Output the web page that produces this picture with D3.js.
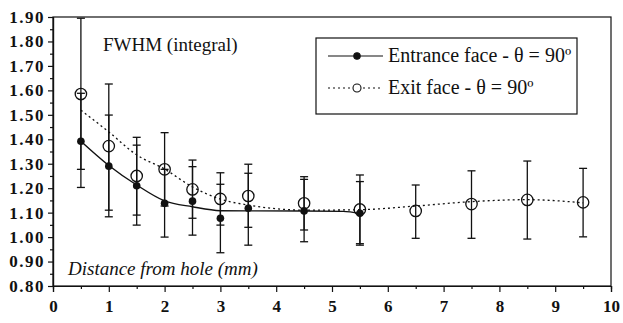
<!DOCTYPE html>
<html>
<head>
<meta charset="utf-8">
<script src="https://cdn.jsdelivr.net/npm/d3@7"></script>
<style>
  body { margin: 0; background: #fff; }
  svg text { font-family: "Liberation Serif", Tinos, "Times New Roman", "DejaVu Serif", serif; fill: #111; }
</style>
</head>
<body>
<svg id="chart" width="623" height="323"></svg>
<script>
// distances from hole (mm)
var entranceX = [0.5, 1, 1.5, 2, 2.5, 3, 3.5, 4.5, 5.5];
var entranceY = [1.392, 1.290, 1.210, 1.138, 1.147, 1.077, 1.118, 1.107, 1.097];
var entranceLo = [1.203, 1.083, 1.049, 1.000, 1.008, 0.936, 0.967, 0.981, 0.967];
var entranceHi = [1.588, 1.499, 1.376, 1.277, 1.288, 1.216, 1.261, 1.236, 1.227];

var exitX = [0.5, 1, 1.5, 2, 2.5, 3, 3.5, 4.5, 5.5, 6.5, 7.5, 8.5, 9.5];
var exitY = [1.585, 1.372, 1.250, 1.277, 1.195, 1.156, 1.168, 1.138, 1.113, 1.107, 1.135, 1.152, 1.142];
var exitLo = [1.277, 1.110, 1.090, 1.127, 1.077, 1.049, 1.040, 1.029, 0.973, 0.995, 0.995, 0.992, 1.001];
var exitHi = [1.895, 1.626, 1.408, 1.427, 1.315, 1.263, 1.298, 1.247, 1.254, 1.213, 1.271, 1.311, 1.281];

// fitted curves
var entranceFitX = [0.5, 1, 1.5, 2, 2.5, 3, 3.5, 4.5, 5.2, 5.5];
var entranceFitY = [1.392, 1.293, 1.213, 1.148, 1.124, 1.108, 1.107, 1.107, 1.105, 1.097];
var exitFitX = [0.5, 1, 1.5, 2, 2.5, 3, 3.5, 4, 4.5, 5.5, 6.5, 7.5, 8.5, 9.5];
var exitFitY = [1.519, 1.430, 1.336, 1.278, 1.205, 1.155, 1.131, 1.116, 1.110, 1.112, 1.127, 1.145, 1.153, 1.140];

var xTicks = [0, 1, 2, 3, 4, 5, 6, 7, 8, 9, 10];
var yTicks = [0.80, 0.90, 1.00, 1.10, 1.20, 1.30, 1.40, 1.50, 1.60, 1.70, 1.80, 1.90];

(function() {
    var svg = d3.select("#chart");
    var mLeft = 53, mRight = 611, mTop = 17, mBottom = 286;
    var serif = "'Liberation Serif', Tinos, 'Times New Roman', 'DejaVu Serif', serif";

    var x = d3.scaleLinear().domain([0, 10]).range([mLeft, mRight]);
    var y = d3.scaleLinear().domain([0.8, 1.9]).range([mBottom, mTop]);

    // frame
    svg.append("rect")
        .attr("x", mLeft).attr("y", mTop)
        .attr("width", mRight - mLeft).attr("height", mBottom - mTop)
        .attr("fill", "none").attr("stroke", "#111").attr("stroke-width", 1.2);

    // minor ticks
    var xMinor = d3.axisBottom(x).tickValues(d3.range(0.5, 10, 1)).tickSize(3).tickFormat("");
    svg.append("g").attr("transform", "translate(0," + mBottom + ")").call(xMinor);
    var yMinor = d3.axisLeft(y).tickValues(d3.range(0.85, 1.9, 0.1)).tickSize(3).tickFormat("");
    svg.append("g").attr("transform", "translate(" + mLeft + ",0)").call(yMinor);

    var xAxis = d3.axisBottom(x).tickValues(xTicks).tickSize(6).tickPadding(8).tickFormat(d3.format("d"));
    var gx = svg.append("g").attr("transform", "translate(0," + mBottom + ")").call(xAxis);
    var yAxis = d3.axisLeft(y).tickValues(yTicks).tickSize(5).tickPadding(3).tickFormat(d3.format(".2f"));
    var gy = svg.append("g").attr("transform", "translate(" + mLeft + ",0)").call(yAxis);

    svg.selectAll("g").attr("font-family", serif);
    svg.selectAll(".domain").attr("stroke", "#111").attr("stroke-width", 1.2);
    svg.selectAll(".tick line").attr("stroke", "#111").attr("stroke-width", 1.2);
    svg.selectAll(".tick text")
        .style("font-family", serif)
        .attr("font-size", 17).attr("font-weight", "bold").attr("fill", "#111");
    gy.selectAll(".tick text").attr("letter-spacing", 1.5);

    // error bars
    function errorBars(xs, lo, hi) {
        var g = svg.append("g").attr("stroke", "#111").attr("stroke-width", 1.3);
        xs.forEach(function(d, i) {
            var px = x(d);
            g.append("line").attr("x1", px).attr("x2", px)
                .attr("y1", y(lo[i])).attr("y2", y(hi[i]));
            [lo[i], hi[i]].forEach(function(v) {
                g.append("line").attr("x1", px - 4).attr("x2", px + 4)
                    .attr("y1", y(v)).attr("y2", y(v));
            });
        });
    }
    errorBars(entranceX, entranceLo, entranceHi);
    errorBars(exitX, exitLo, exitHi);

    // fitted lines
    var line = d3.line().curve(d3.curveMonotoneX)
        .x(function(d) { return x(d[0]); })
        .y(function(d) { return y(d[1]); });

    svg.append("path")
        .datum(exitFitX.map(function(d, i) { return [d, exitFitY[i]]; }))
        .attr("d", line).attr("fill", "none")
        .attr("stroke", "#111").attr("stroke-width", 1.3)
        .attr("stroke-dasharray", "2,3");

    svg.append("path")
        .datum(entranceFitX.map(function(d, i) { return [d, entranceFitY[i]]; }))
        .attr("d", line).attr("fill", "none")
        .attr("stroke", "#111").attr("stroke-width", 1.4);

    // markers
    svg.selectAll(".exit").data(exitX).enter().append("circle")
        .attr("class", "exit")
        .attr("cx", function(d) { return x(d); })
        .attr("cy", function(d, i) { return y(exitY[i]); })
        .attr("r", 5.7).attr("fill", "none").attr("stroke", "#111").attr("stroke-width", 1.3);

    svg.selectAll(".entrance").data(entranceX).enter().append("circle")
        .attr("class", "entrance")
        .attr("cx", function(d) { return x(d); })
        .attr("cy", function(d, i) { return y(entranceY[i]); })
        .attr("r", 3.8).attr("fill", "#111");

    // labels
    svg.append("text").attr("x", 103).attr("y", 51).style("font-family", serif)
        .attr("font-size", 19).text("FWHM (integral)");
    svg.append("text").attr("x", 68).attr("y", 275).style("font-family", serif)
        .attr("font-size", 19).attr("font-style", "italic").text("Distance from hole (mm)");

    // legend
    var lg = svg.append("g");
    lg.append("rect").attr("x", 316).attr("y", 38).attr("width", 261).attr("height", 76)
        .attr("fill", "#fff").attr("stroke", "#111").attr("stroke-width", 1.2);
    var rows = [
        {label: "Entrance face - \u03b8 = 90\u00ba", dash: null, filled: true, y: 56},
        {label: "Exit face - \u03b8 = 90\u00ba", dash: "2,3", filled: false, y: 88}
    ];
    rows.forEach(function(r) {
        lg.append("line").attr("x1", 328).attr("x2", 383).attr("y1", r.y).attr("y2", r.y)
            .attr("stroke", "#111").attr("stroke-width", 1.2)
            .attr("stroke-dasharray", r.dash);
        lg.append("circle").attr("cx", 357).attr("cy", r.y)
            .attr("r", r.filled ? 3.2 : 4)
            .attr("fill", r.filled ? "#111" : "#fff")
            .attr("stroke", "#111").attr("stroke-width", 1.1);
        lg.append("text").attr("x", 388).attr("y", r.y + 6).style("font-family", serif)
            .attr("font-size", 20).text(r.label);
    });
})();
</script>
</body>
</html>
